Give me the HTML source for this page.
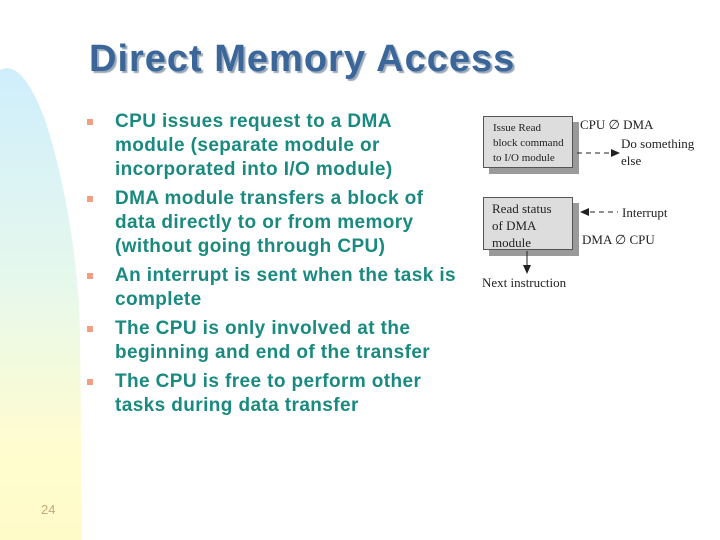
<!DOCTYPE html>
<html><head><style>
body{margin:0;width:720px;height:540px;background:#fff;position:relative;overflow:hidden;font-family:"Liberation Sans",sans-serif}
.t{position:absolute;left:89px;top:38px;font-size:38px;font-weight:bold;color:#3a6699;text-shadow:2px 2px 1px #9aa8b8;letter-spacing:1px}
.b{position:absolute;left:115px;font-size:19px;font-weight:bold;color:#1a8a80;line-height:24px;white-space:nowrap;letter-spacing:0.4px}
.d{position:absolute;left:87px;width:6px;height:6px;background:#f0a080}
.s{position:absolute;font-family:"Liberation Serif",serif;font-size:13px;color:#222;white-space:nowrap}
.box{position:absolute;background:#ddd;border:1px solid #555;box-shadow:6px 6px 0 #9a9a9a;font-family:"Liberation Serif",serif;color:#222}
</style></head><body>
<svg style="position:absolute;left:0;top:0" width="90" height="540">
<defs><linearGradient id="g" x1="0" y1="0" x2="0" y2="1">
<stop offset="0" stop-color="#cfeefc"/><stop offset="0.45" stop-color="#e6f8ec"/><stop offset="0.8" stop-color="#fffcd0"/><stop offset="1" stop-color="#fffbc8"/></linearGradient></defs>
<path d="M0,70 C15,62 30,80 45,120 C65,180 78,260 80,330 L82,540 L0,540 Z" fill="url(#g)"/>
</svg>
<div class="t">Direct Memory Access</div>
<div class="d" style="top:119px"></div><div class="d" style="top:196px"></div><div class="d" style="top:273px"></div><div class="d" style="top:326px"></div><div class="d" style="top:379px"></div>
<div class="b" style="top:110px">CPU issues request to a DMA<br>module (separate module or<br>incorporated into I/O module)</div>
<div class="b" style="top:187px">DMA module transfers a block of<br>data directly to or from memory<br>(without going through CPU)</div>
<div class="b" style="top:264px">An interrupt is sent when the task is<br>complete</div>
<div class="b" style="top:317px">The CPU is only involved at the<br>beginning and end of the transfer</div>
<div class="b" style="top:370px">The CPU is free to perform other<br>tasks during data transfer</div>
<div style="position:absolute;left:41px;top:502px;font-size:13px;color:#c8a878">24</div>

<div class="box" style="left:483px;top:116px;width:90px;height:52px;font-size:11px;line-height:15px;padding:4px 0 0 9px;box-sizing:border-box">Issue Read<br>block command<br>to I/O module</div>
<div class="box" style="left:483px;top:197px;width:90px;height:53px;font-size:13px;line-height:17px;padding:2px 0 0 8px;box-sizing:border-box">Read status<br>of DMA<br>module</div>
<div class="s" style="left:580px;top:117px">CPU ∅ DMA</div>
<div class="s" style="left:621px;top:135px;line-height:17px">Do something<br>else</div>
<div class="s" style="left:622px;top:205px">Interrupt</div>
<div class="s" style="left:582px;top:232px">DMA ∅ CPU</div>
<div class="s" style="left:482px;top:275px">Next instruction</div>
<svg style="position:absolute;left:0;top:0" width="720" height="540">
<line x1="577" y1="153" x2="612" y2="153" stroke="#222" stroke-dasharray="5,4"/>
<polygon points="620,153 611,149 611,157" fill="#222"/>
<line x1="590" y1="212" x2="618" y2="212" stroke="#222" stroke-dasharray="5,4"/>
<polygon points="580,212 589,208 589,216" fill="#222"/>
<line x1="527" y1="251" x2="527" y2="266" stroke="#222"/>
<polygon points="527,274 523,265 531,265" fill="#222"/>
</svg>
</body></html>
